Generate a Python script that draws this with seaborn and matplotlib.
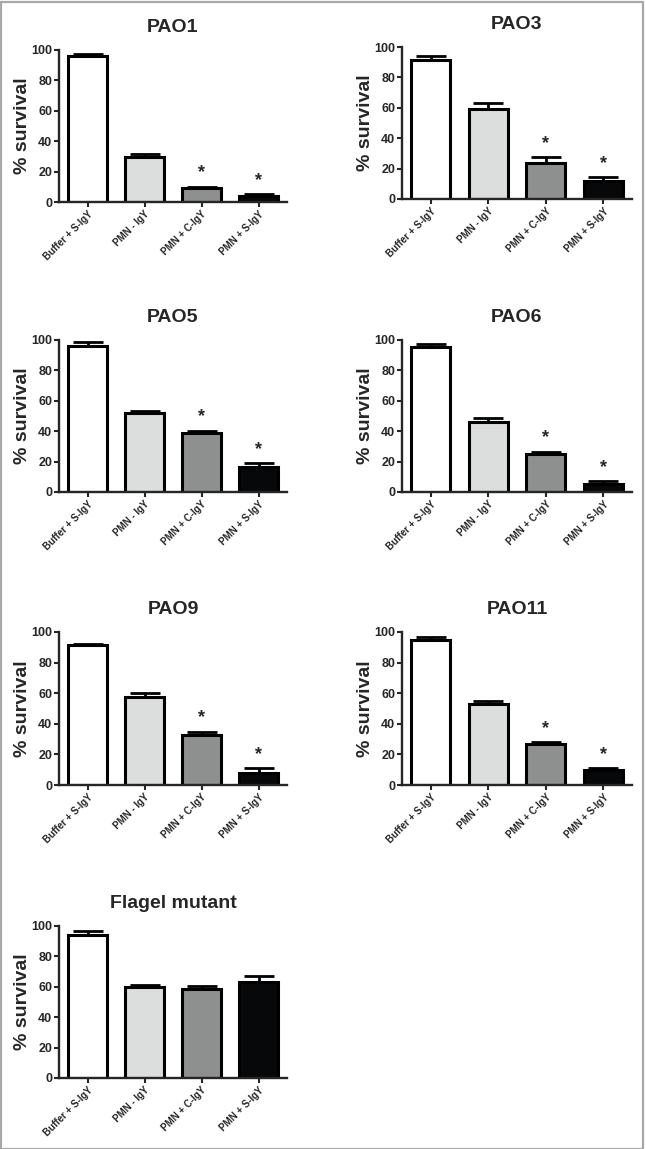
import matplotlib
matplotlib.use("Agg")
import matplotlib.pyplot as plt
import seaborn as sns
import pandas as pd
from matplotlib.patches import Rectangle

# conditions (x axis)
conditions = ['Buffer + S-IgY', 'PMN - IgY', 'PMN + C-IgY', 'PMN + S-IgY']
bar_colors = ['#ffffff', '#dcdedd', '#8e8f8f', '#050909']

# % survival means and upper error (SEM)
strains = ['PAO1', 'PAO3', 'PAO5', 'PAO6', 'PAO9', 'PAO11', 'Flagel mutant']
pao1_mean = [96.0, 29.7, 9.2, 4.0]
pao1_err = [1.6, 2.2, 0.9, 1.3]
pao3_mean = [91.5, 59.0, 23.4, 12.0]
pao3_err = [2.8, 4.0, 4.0, 2.2]
pao5_mean = [96.0, 52.0, 38.6, 16.2]
pao5_err = [2.4, 1.6, 1.8, 2.6]
pao6_mean = [95.4, 46.0, 25.0, 5.2]
pao6_err = [2.0, 2.4, 1.6, 2.0]
pao9_mean = [91.3, 57.4, 32.9, 8.0]
pao9_err = [0.8, 2.6, 1.9, 3.0]
pao11_mean = [94.7, 52.7, 27.0, 9.5]
pao11_err = [2.2, 2.2, 1.0, 1.5]
flagel_mean = [94.4, 59.7, 58.6, 63.4]
flagel_err = [2.0, 1.7, 1.8, 3.8]
means = [pao1_mean, pao3_mean, pao5_mean, pao6_mean, pao9_mean, pao11_mean, flagel_mean]
errs = [pao1_err, pao3_err, pao5_err, pao6_err, pao9_err, pao11_err, flagel_err]
# significance stars per bar
stars = [[0, 0, 1, 1]] * 6 + [[0, 0, 0, 0]]

sns.set_style("ticks")
plt.rcParams['font.family'] = ['Liberation Sans', 'DejaVu Sans']
plt.rcParams['font.weight'] = 'bold'

W, H = 646, 1149
fig = plt.figure(figsize=(W / 100, H / 100), dpi=100)

# axes boxes in pixels: (left, top of 100, right, bottom at 0)
boxes = [
    (59, 50, 287, 202), (402, 47, 632, 199),
    (59, 340, 287, 492), (402, 340, 632, 492),
    (59, 632, 287, 785), (402, 632, 632, 785),
    (59, 926, 287, 1078),
]

for i, name in enumerate(strains):
    l, t, r, b = boxes[i]
    ax = fig.add_axes([l / W, 1 - b / H, (r - l) / W, (b - t) / H])
    df = pd.DataFrame({'cond': conditions, 'surv': means[i]})
    sns.barplot(data=df, x='cond', y='surv', hue='cond', palette=bar_colors,
                legend=False, width=0.68, edgecolor='black', linewidth=2.2,
                errorbar=None, ax=ax, zorder=2)
    ax.errorbar(range(4), means[i], yerr=[[0] * 4, errs[i]], fmt='none',
                ecolor='black', elinewidth=2.0, capsize=10.5, capthick=2.0, zorder=1)
    for j, s in enumerate(stars[i]):
        if s:
            ax.text(j, means[i][j] + errs[i][j] + 3.5, '*', ha='center', va='bottom',
                    fontsize=13, fontweight='bold')
    ax.set_xlim(-0.5, 3.5)
    ax.set_ylim(0, 100)
    ax.set_yticks([0, 20, 40, 60, 80, 100])
    ax.set_title(name, fontsize=14, fontweight='bold', pad=13)
    ax.set_ylabel('% survival', fontsize=14, fontweight='bold', labelpad=0)
    ax.set_xlabel('')
    ax.set_xticks(range(4))
    ax.set_xticklabels(conditions, rotation=45, ha='right', rotation_mode='anchor',
                       fontsize=7, fontweight='bold')
    for lab in ax.get_yticklabels():
        lab.set_fontsize(9)
        lab.set_fontweight('bold')
    ax.tick_params(axis='both', width=1.5, length=3.5, pad=1.5)
    sns.despine(ax=ax)
    for sp in ['left', 'bottom']:
        ax.spines[sp].set_linewidth(1.7)
    ax.patch.set_alpha(0)

# grey frame round the whole panel
fig.patches.append(Rectangle((0.5 / W, 0.5 / H), 1 - 3.5 / W, 1 - 2.5 / H,
                             transform=fig.transFigure, fill=False,
                             edgecolor='#a8a8a8', linewidth=1.6))

fig.savefig('out.png', dpi=100)
